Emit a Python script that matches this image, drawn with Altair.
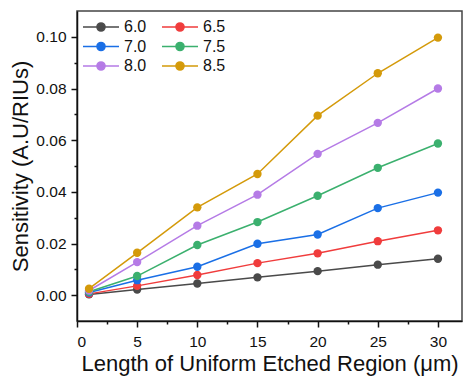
import altair as alt
import pandas as pd

lengths = [1, 5, 10, 15, 20, 25, 30]
series_names = ["6.0", "6.5", "7.0", "7.5", "8.0", "8.5"]
s60 = [0.0003, 0.0022, 0.0045, 0.0069, 0.0093, 0.0118, 0.0141]
s65 = [0.0005, 0.0036, 0.0078, 0.0124, 0.0162, 0.0209, 0.0251]
s70 = [0.0010, 0.0058, 0.0110, 0.0199, 0.0235, 0.0337, 0.0397]
s75 = [0.0013, 0.0074, 0.0194, 0.0283, 0.0385, 0.0493, 0.0587]
s80 = [0.0018, 0.0128, 0.0269, 0.0389, 0.0547, 0.0667, 0.0800]
s85 = [0.0025, 0.0164, 0.0340, 0.0469, 0.0695, 0.0859, 0.0997]
colors = ["#4a4a4a", "#f03c3c", "#1a6fe6", "#3bb06e", "#b57be6", "#d49a0a"]

x_ticks = [0, 2.5, 5, 7.5, 10, 12.5, 15, 17.5, 20, 22.5, 25, 27.5, 30]
y_ticks = [0.0, 0.01, 0.02, 0.03, 0.04, 0.05, 0.06, 0.07, 0.08, 0.09, 0.10]

rows = []
for name, vals in zip(series_names, [s60, s65, s70, s75, s80, s85]):
    for x, v in zip(lengths, vals):
        rows.append({"Length": x, "Sensitivity": v, "Series": name})
df = pd.DataFrame(rows)

FONT = "Liberation Sans"

x_enc = alt.X(
    "Length:Q",
    scale=alt.Scale(domain=[0, 32], nice=False, zero=False),
    axis=alt.Axis(
        title="Length of Uniform Etched Region (μm)",
        values=x_ticks,
        labelExpr="datum.value % 5 === 0 ? datum.label : ''",
        tickSize={"condition": {"test": "datum.value % 5 !== 0", "value": 3}, "value": 6},
        grid=False,
        titlePadding=4,
        labelPadding=7,
    ),
)
y_enc = alt.Y(
    "Sensitivity:Q",
    scale=alt.Scale(domain=[-0.01, 0.11], nice=False, zero=False),
    axis=alt.Axis(
        title="Sensitivity (A.U/RIUs)",
        values=y_ticks,
        format=".2f",
        labelExpr="round(datum.value * 100) % 2 === 0 ? datum.label : ''",
        tickSize={"condition": {"test": "round(datum.value * 100) % 2 !== 0", "value": 3}, "value": 6},
        grid=False,
        titlePadding=3,
        labelPadding=5,
    ),
)
color_enc = alt.Color(
    "Series:N",
    scale=alt.Scale(domain=series_names, range=colors),
    legend=alt.Legend(
        title=None,
        orient="none",
        direction="horizontal",
        legendX=14,
        legendY=6,
        columns=2,
        symbolType="M-2,0H2M0.45,0A0.45,0.45,0,1,1,-0.45,0A0.45,0.45,0,1,1,0.45,0Z",
        symbolSize=324,
        symbolStrokeWidth=1.5,
        labelFontSize=16,
        labelFont=FONT,
        labelColor="#111",
        labelOffset=13,
        columnPadding=12,
        rowPadding=1.5,
    ),
)

base = alt.Chart(df).encode(x=x_enc, y=y_enc, color=color_enc)
lines = base.mark_line(strokeWidth=1.5)
points = base.mark_circle(size=70, opacity=1)

chart = (
    alt.layer(lines, points)
    .properties(
        width=385,
        height=310,
        autosize=alt.AutoSizeParams(type="none"),
        padding={"left": 77, "top": 11, "right": 2, "bottom": 58},
        background="white",
    )
    .configure_view(stroke="#444", strokeWidth=1.5)
    .configure_axis(
        labelFont=FONT,
        labelFontSize=15.5,
        labelColor="#111",
        titleFont=FONT,
        titleFontSize=22,
        titleFontWeight="normal",
        titleColor="#111",
        domainColor="#111",
        domainWidth=1.5,
        tickColor="#111",
        tickWidth=1.5,
    )
)

chart.save("out.html", embed_options={"renderer": "svg", "actions": False})
